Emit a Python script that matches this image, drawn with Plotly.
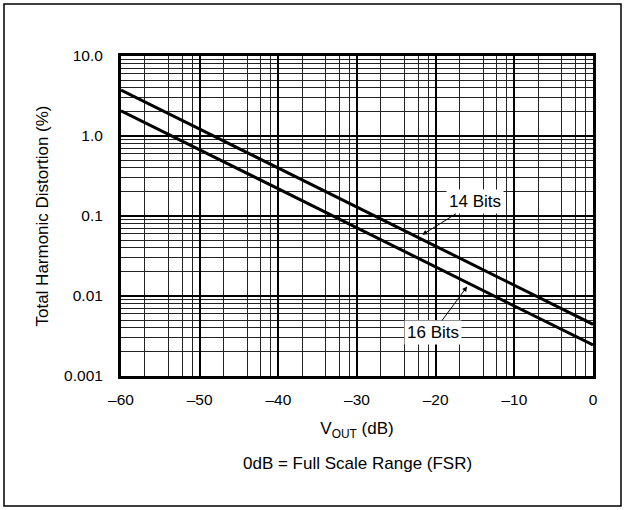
import numpy as np
import plotly.graph_objects as go

# Data
vout_db = [-60, 0]
thd_14bit = [3.76, 0.00443]
thd_16bit = [2.07, 0.00244]
x_ticks = [-60, -50, -40, -30, -20, -10, 0]
x_ticktext = ["\u201360", "\u201350", "\u201340", "\u201330", "\u201320", "\u201310", "0"]
y_ticks = [0.001, 0.01, 0.1, 1, 10]
y_ticktext = ["0.001", "0.01", "0.1", "1.0", "10.0"]

W, H = 626, 510
L, T = 121, 56
pw, ph = 472, 320
R, B = W - L - pw, H - T - ph

x_minor = [d + 10 * np.log10(k) for d in range(-60, 0, 10) for k in (2, 4, 6, 8)]
y_minor = [k * 10.0 ** e for e in range(-3, 1) for k in range(2, 10)]

fig = go.Figure()
fig.add_trace(go.Scatter(x=vout_db, y=thd_14bit, mode="lines", name="14 Bits",
                         line=dict(color="black", width=3)))
fig.add_trace(go.Scatter(x=vout_db, y=thd_16bit, mode="lines", name="16 Bits",
                         line=dict(color="black", width=3)))

def loglev(xq, xs, ys):
    return float(np.interp(xq, xs, np.log10(ys)))

FAM = "Liberation Sans, Arial, sans-serif"
tick_font = dict(family=FAM, size=15.5, color="black")
lab_font = dict(family=FAM, size=17, color="black")

fig.add_annotation(x=-21.7, y=loglev(-21.7, vout_db, thd_14bit) + 0.06, text="14 Bits",
                   showarrow=True, arrowhead=2, arrowsize=1, arrowwidth=1, arrowcolor="black",
                   ax=53, ay=-33, bgcolor="white", borderpad=2, font=lab_font)
fig.add_annotation(x=-16.0, y=loglev(-16.0, vout_db, thd_16bit) - 0.05, text="16 Bits",
                   showarrow=True, arrowhead=2, arrowsize=1, arrowwidth=1, arrowcolor="black",
                   ax=-34, ay=46, bgcolor="white", borderpad=2, font=lab_font)
fig.add_annotation(xref="paper", yref="paper", x=0.5, y=(ph - (463 - T)) / ph,
                   text="0dB = Full Scale Range (FSR)", showarrow=False,
                   xanchor="center", yanchor="middle", font=lab_font)

# outer frame of the figure
fig.add_shape(type="rect", xref="paper", yref="paper",
              x0=(4 - L) / pw, x1=(621 - L) / pw,
              y0=(ph - (506 - T)) / ph, y1=(ph - (4 - T)) / ph,
              line=dict(color="black", width=1.5), layer="below")

fig.update_layout(
    width=W, height=H,
    margin=dict(l=L, r=R, t=T, b=B),
    paper_bgcolor="white", plot_bgcolor="white",
    showlegend=False,
    font=tick_font,
)
fig.update_xaxes(
    range=[-60, 0], tickvals=x_ticks, ticktext=x_ticktext, tickfont=tick_font,
    showgrid=True, gridcolor="black", gridwidth=2,
    showline=True, linecolor="black", linewidth=3, mirror=True,
    ticks="", ticklabelstandoff=7, zeroline=False,
    minor=dict(tickvals=x_minor, showgrid=True, gridcolor="#222", gridwidth=1, ticks=""),
    title=dict(text="V<sub>OUT</sub> (dB)", font=lab_font, standoff=16),
)
fig.update_yaxes(
    type="log", range=[-3, 1], tickvals=y_ticks, ticktext=y_ticktext, tickfont=tick_font,
    showgrid=True, gridcolor="black", gridwidth=2,
    showline=True, linecolor="black", linewidth=3, mirror=True,
    ticks="", ticklabelstandoff=12, zeroline=False,
    minor=dict(tickvals=y_minor, showgrid=True, gridcolor="#222", gridwidth=1, ticks=""),
    title=dict(text="Total Harmonic Distortion (%)", font=lab_font, standoff=12),
)

fig.write_html("out.html", post_script="document.body.style.margin='0';",
               config={"displayModeBar": False})
